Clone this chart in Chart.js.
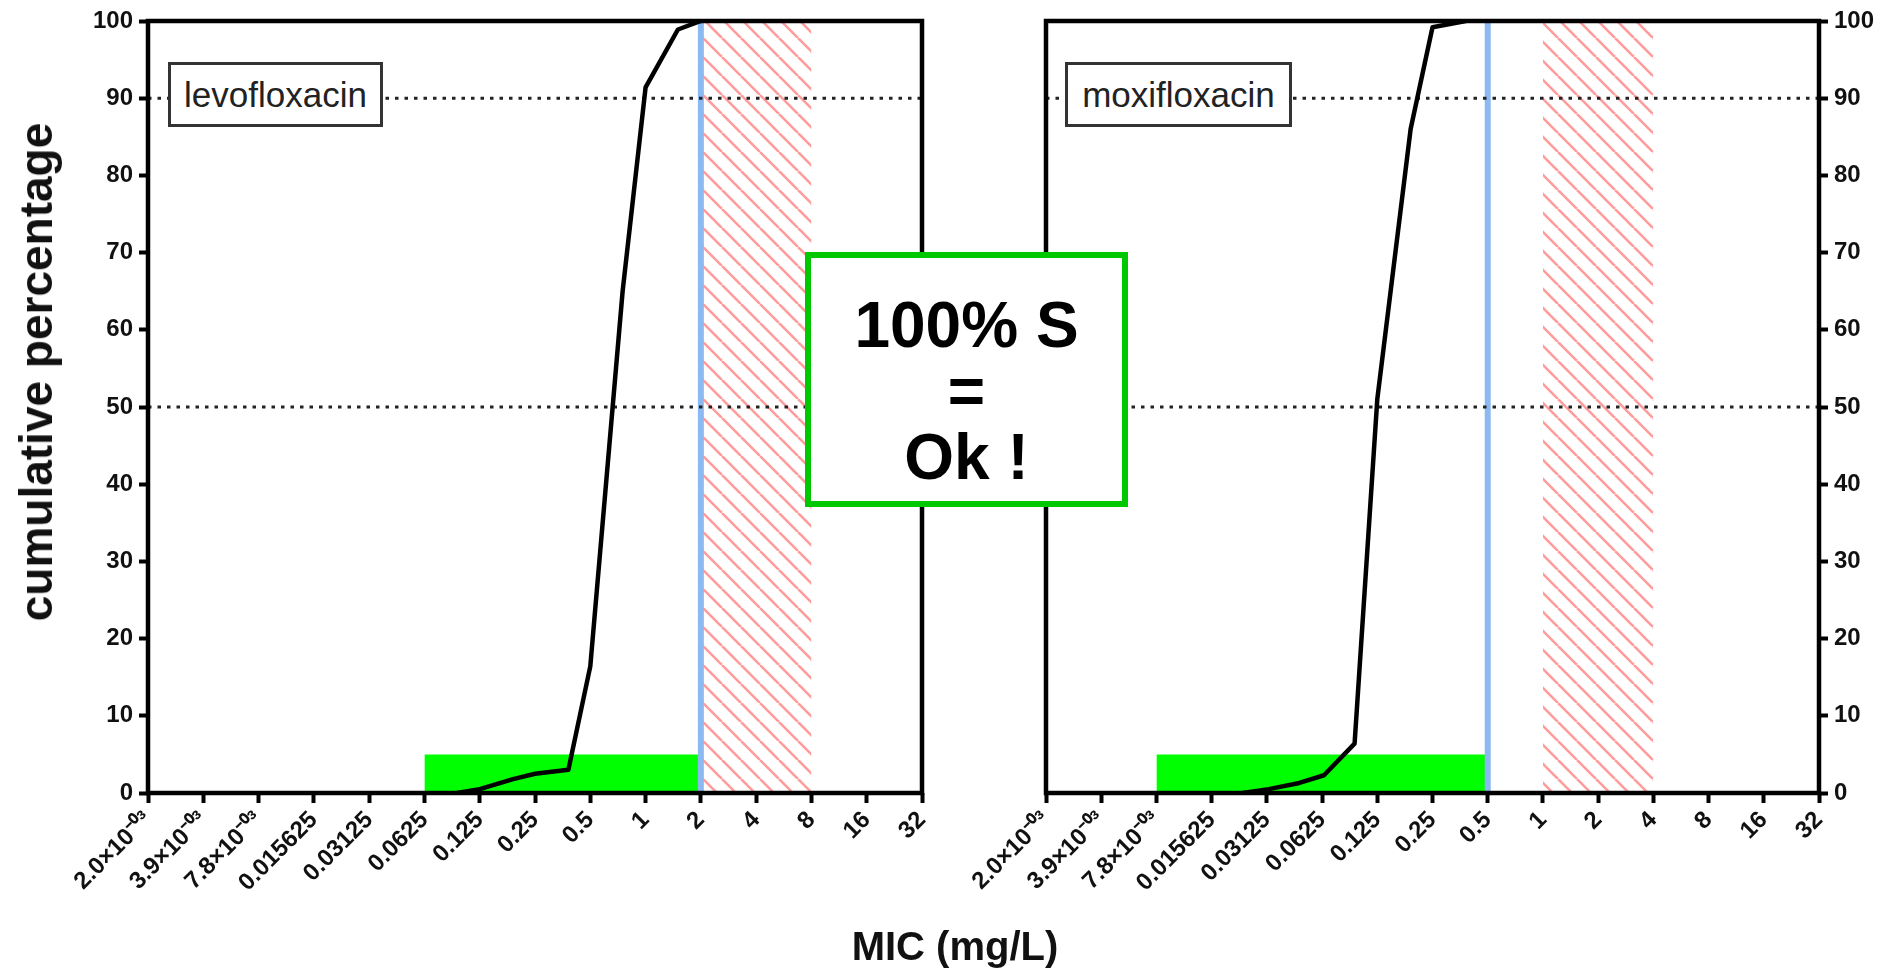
<!DOCTYPE html>
<html>
<head>
<meta charset="utf-8">
<script src="https://cdn.jsdelivr.net/npm/chart.js@4.4.1/dist/chart.umd.min.js"></script>
<style>
  body { margin: 0; background: #fff; font-family: "Liberation Sans", Arial, sans-serif; }
  #wrap { position: relative; width: 1889px; height: 978px; overflow: hidden; }
  canvas { position: absolute; left: 0; top: 0; }
  .drug {
    position: absolute; top: 62px; height: 65px; box-sizing: border-box;
    border: 3px solid #333; background: #fff; color: #222; font-size: 35px;
    display: flex; align-items: center; justify-content: center;
  }
  .ok {
    position: absolute; left: 805px; top: 252px; width: 323px; height: 255px;
    box-sizing: border-box; border: 6px solid #00c800; background: #fff;
    padding-top: 22px;
    display: flex; align-items: center; justify-content: center; text-align: center;
    font-weight: bold; font-size: 64px; line-height: 66px; color: #000;
  }
  .tit { position: absolute; font-weight: bold; color: #111; white-space: nowrap; }
</style>
</head>
<body>
<div id="wrap">
  <canvas id="levo" width="1889" height="978"></canvas>
  <canvas id="moxi" width="1889" height="978"></canvas>
  <div class="drug" style="left:168px;width:215px;">levofloxacin</div>
  <div class="drug" style="left:1065px;width:227px;">moxifloxacin</div>
  <div class="ok">100% S<br>=<br>Ok !</div>
  <div class="tit" style="left:36px;top:372px;font-size:46px;transform:translate(-50%,-50%) rotate(-90deg);">cumulative percentage</div>
  <div class="tit" style="left:955px;top:946px;font-size:40px;transform:translate(-50%,-50%);">MIC (mg/L)</div>
</div>
<script>
// eje X: diluciones dobles de 2.0e-3 a 32 mg/L
const ticksMIC = [0.001953125, 0.00390625, 0.0078125, 0.015625, 0.03125, 0.0625, 0.125, 0.25, 0.5, 1, 2, 4, 8, 16, 32];
const ticksTexto = ['2.0×10⁻⁰³', '3.9×10⁻⁰³', '7.8×10⁻⁰³', '0.015625', '0.03125', '0.0625', '0.125', '0.25', '0.5', '1', '2', '4', '8', '16', '32'];

// distribucion acumulada (%)
const levoMIC = [0.094, 0.125, 0.19, 0.25, 0.38, 0.5, 0.75, 1, 1.5, 2];
const levoAcum = [0, 0.5, 1.8, 2.5, 3, 16.4, 65, 91.4, 98.9, 100];
const moxiMIC = [0.023, 0.032, 0.047, 0.064, 0.094, 0.125, 0.19, 0.25, 0.38];
const moxiAcum = [0, 0.5, 1.3, 2.3, 6.4, 51, 86, 99.2, 100];

// puntos de corte, zona verde y zona rayada
const levoCorte = 2;
const moxiCorte = 0.5;
const levoVerde = [0.0625, 2];
const moxiVerde = [0.0078125, 0.5];
const levoRayado = [2, 8];
const moxiRayado = [1, 4];
const alturaVerde = 5;
const lineasRef = [90, 50];

const fuente = '"Liberation Sans", Arial, sans-serif';

function rayado() {
    const s = 19;
    const c = document.createElement('canvas');
    c.width = s; c.height = s;
    const ctx = c.getContext('2d');
    ctx.strokeStyle = '#ff9c9c';
    ctx.lineWidth = 2.6;
    ctx.beginPath();
    for (let k = -1; k <= 1; k++) {
        ctx.moveTo(k * s, 0);
        ctx.lineTo(k * s + s, s);
    }
    ctx.stroke();
    return ctx.createPattern(c, 'repeat');
}

const marco = {
    id: 'marco',
    afterDatasetsDraw(chart) {
        const { ctx, chartArea: a } = chart;
        ctx.save();
        ctx.strokeStyle = '#000';
        ctx.lineWidth = 4.5;
        ctx.strokeRect(a.left, a.top, a.right - a.left, a.bottom - a.top);
        ctx.restore();
    }
};

function Grafico(id, lado, mic, acum, verde, corte, rayas) {
    const xmin = ticksMIC[0];
    const xmax = ticksMIC[ticksMIC.length - 1];
    const datasets = [
        {
            data: mic.map((m, i) => ({ x: m, y: acum[i] })),
            borderColor: '#000', borderWidth: 4.5, borderJoinStyle: 'round',
            pointRadius: 0, order: 0
        },
        ...lineasRef.map(v => ({
            data: [{ x: xmin, y: v }, { x: xmax, y: v }],
            borderColor: '#222', borderWidth: 3, borderDash: [3.5, 6],
            pointRadius: 0, order: 1
        })),
        {
            data: [{ x: corte, y: 0 }, { x: corte, y: 100 }],
            borderColor: '#8cb9f2', borderWidth: 6, pointRadius: 0, order: 2
        },
        {
            data: rayas.map(m => ({ x: m, y: 100 })),
            borderWidth: 0, fill: 'origin', backgroundColor: rayado(),
            pointRadius: 0, order: 3
        },
        {
            data: verde.map(m => ({ x: m, y: alturaVerde })),
            borderWidth: 0, fill: 'origin', backgroundColor: '#00ff00',
            pointRadius: 0, order: 4
        }
    ];

    const config = {
        type: 'line',
        data: { datasets: datasets },
        options: {
            responsive: false,
            animation: false,
            events: [],
            layout: {
                padding: lado === 'left'
                    ? { left: 0, top: 21, right: 967, bottom: 0 }
                    : { left: 1046, top: 21, right: 0, bottom: 0 }
            },
            plugins: { legend: { display: false }, tooltip: { enabled: false } },
            scales: {
                x: {
                    type: 'logarithmic',
                    min: xmin,
                    max: xmax,
                    afterBuildTicks: s => { s.ticks = ticksMIC.map(v => ({ value: v })); },
                    afterFit: s => { s.height = 185; s.paddingLeft = 0; s.paddingRight = 0; },
                    ticks: {
                        autoSkip: false, maxRotation: 45, minRotation: 45, padding: 3,
                        color: '#111', font: { family: fuente, size: 24, weight: 'bold' },
                        callback: (v, i) => ticksTexto[i]
                    },
                    grid: { drawOnChartArea: false, tickLength: 10, tickWidth: 4, tickColor: '#000' },
                    border: { display: false }
                },
                y: {
                    position: lado,
                    min: 0,
                    max: 100,
                    afterFit: s => { s.width = lado === 'left' ? 148 : 70; },
                    ticks: {
                        stepSize: 10, padding: 6, color: '#111',
                        font: { family: fuente, size: 24, weight: 'bold' }
                    },
                    grid: { drawOnChartArea: false, tickLength: 9, tickWidth: 4, tickColor: '#000' },
                    border: { display: false }
                }
            }
        },
        plugins: [marco]
    };
    new Chart(document.getElementById(id), config);
}

Grafico('levo', 'left', levoMIC, levoAcum, levoVerde, levoCorte, levoRayado);
Grafico('moxi', 'right', moxiMIC, moxiAcum, moxiVerde, moxiCorte, moxiRayado);
</script>
</body>
</html>
